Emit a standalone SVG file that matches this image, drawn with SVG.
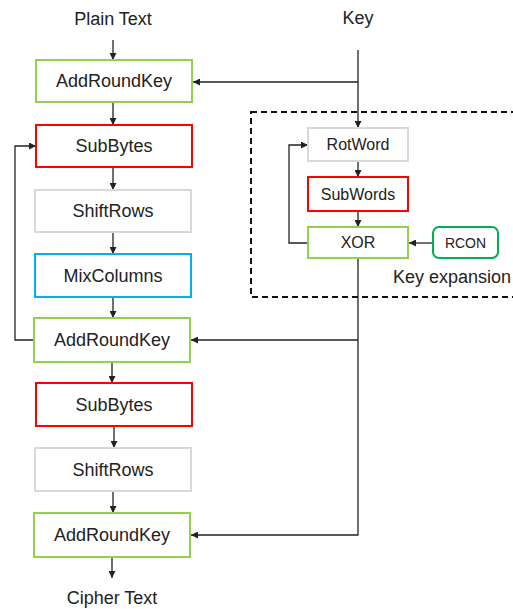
<svg xmlns="http://www.w3.org/2000/svg" width="513" height="609" viewBox="0 0 513 609">
<style>
text{font-family:"Liberation Sans",Arial,sans-serif;fill:#222;text-anchor:middle}
.b{fill:#fff;stroke-width:2}
.g{stroke:#92d050}.r{stroke:#ff0000}.s{stroke:#d9d9d9}.c{stroke:#00b0f0}.k{stroke:#00b050}
.t{font-size:18px}.m{font-size:16px}
.ln{fill:none;stroke:#222;stroke-width:1.3}
</style>
<defs>
<marker id="a" viewBox="0 0 10 10" refX="10" refY="5" markerWidth="7" markerHeight="7" markerUnits="userSpaceOnUse" orient="auto"><path d="M0,0L10,5L0,10z" fill="#222"/></marker>
</defs>
<rect x="251" y="112" width="266" height="185" fill="none" stroke="#111" stroke-width="2" stroke-dasharray="6,4"/>
<text x="113" y="25" class="t">Plain Text</text>
<text x="358" y="24" class="t">Key</text>
<text x="452" y="283" class="t">Key expansion</text>
<text x="112" y="604" class="t">Cipher Text</text>
<g id="connectors" class="ln">
<path d="M113,40V60" marker-end="url(#a)"/>
<path d="M113,102V125" marker-end="url(#a)"/>
<path d="M113,167V190" marker-end="url(#a)"/>
<path d="M113,232V254" marker-end="url(#a)"/>
<path d="M113,297V318" marker-end="url(#a)"/>
<path d="M112,362V383" marker-end="url(#a)"/>
<path d="M114,426V448" marker-end="url(#a)"/>
<path d="M113,491V513" marker-end="url(#a)"/>
<path d="M112,557V578" marker-end="url(#a)"/>
<path d="M34,340H15V146H36" marker-end="url(#a)"/>
<path d="M358,50V128" marker-end="url(#a)"/>
<path d="M358,82H193" marker-end="url(#a)"/>
<path d="M358,161V177" marker-end="url(#a)"/>
<path d="M358,211V227" marker-end="url(#a)"/>
<path d="M308,243H289V145H308" marker-end="url(#a)"/>
<path d="M433,243H409" marker-end="url(#a)"/>
<path d="M358,258V535H191" marker-end="url(#a)"/>
<path d="M358,340H191" marker-end="url(#a)"/>
</g>
<g id="ark1"><rect x="36" y="60" width="156" height="42" class="b g"/><text x="114" y="87" class="t">AddRoundKey</text></g>
<g id="sb1"><rect x="36" y="125" width="156" height="42" class="b r"/><text x="114" y="152" class="t">SubBytes</text></g>
<g id="sr1"><rect x="35" y="190" width="156" height="42" class="b s"/><text x="113" y="217" class="t">ShiftRows</text></g>
<g id="mc"><rect x="35" y="254" width="156" height="43" class="b c"/><text x="113" y="282" class="t">MixColumns</text></g>
<g id="ark2"><rect x="34" y="318" width="156" height="44" class="b g"/><text x="112" y="346" class="t">AddRoundKey</text></g>
<g id="sb2"><rect x="36" y="383" width="156" height="43" class="b r"/><text x="114" y="411" class="t">SubBytes</text></g>
<g id="sr2"><rect x="35" y="448" width="156" height="43" class="b s"/><text x="113" y="476" class="t">ShiftRows</text></g>
<g id="ark3"><rect x="34" y="513" width="156" height="44" class="b g"/><text x="112" y="541" class="t">AddRoundKey</text></g>
<g id="rot"><rect x="308" y="128" width="100" height="33" class="b s"/><text x="358" y="150" class="m">RotWord</text></g>
<g id="sw"><rect x="308" y="177" width="100" height="34" class="b r"/><text x="358" y="200" class="m">SubWords</text></g>
<g id="xor"><rect x="308" y="227" width="100" height="31" class="b g"/><text x="358" y="248" class="m">XOR</text></g>
<g id="rcon"><rect x="433" y="227" width="65" height="31" rx="6" class="b k"/><text x="465.5" y="248" style="font-size:14px">RCON</text></g>
</svg>
